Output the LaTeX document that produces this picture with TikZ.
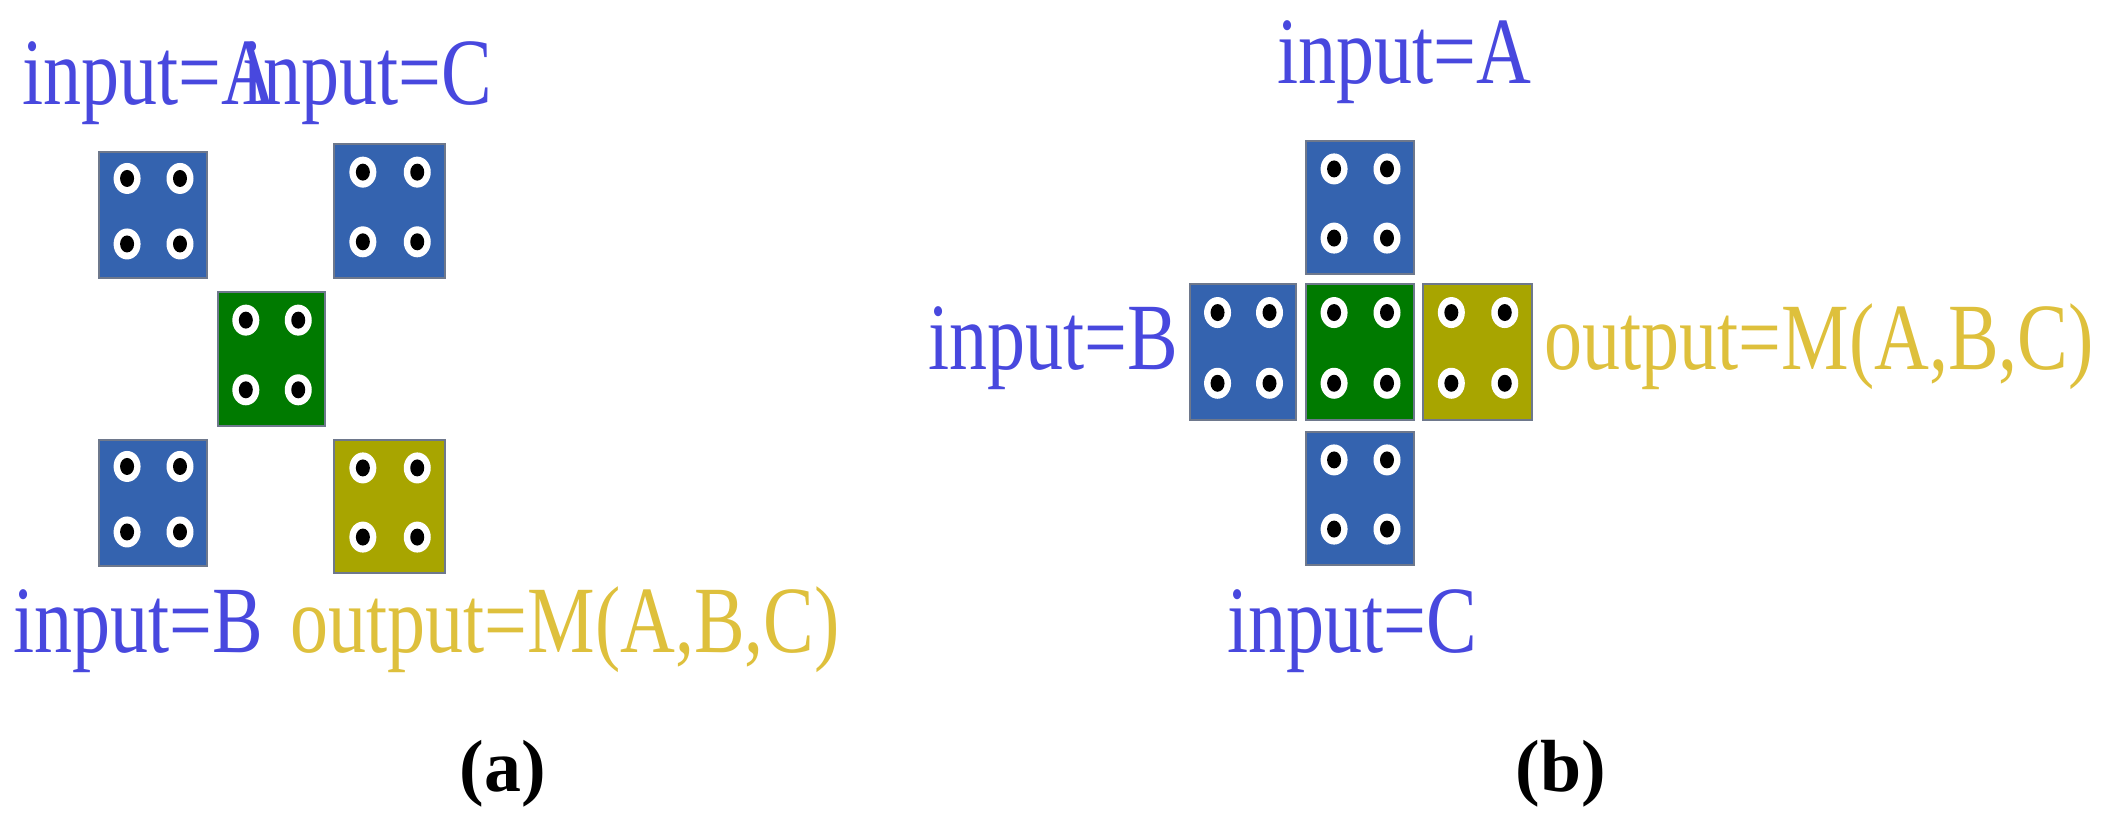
\documentclass[tikz,border=0pt]{standalone}
\usepackage{fontspec}
\setmainfont{Liberation Serif}
\definecolor{txtblue}{RGB}{72,72,222}
\definecolor{txtyel}{RGB}{222,192,60}
\definecolor{cblue}{RGB}{52,99,175}
\definecolor{cgreen}{RGB}{0,122,0}
\definecolor{colive}{RGB}{168,165,0}
\definecolor{cedge}{RGB}{110,120,140}
\tikzset{
  lbl/.style={inner sep=0pt, anchor=base west, xscale=0.8, font=\fontsize{27}{30}\selectfont},
  captxt/.style={inner sep=0pt, anchor=base, font=\fontsize{21}{24}\selectfont\bfseries},
}
\newcommand{\mycell}[6]{%
  \node[fill=#6, draw=cedge, line width=0.5pt, inner sep=0pt, minimum width={(#4-#2)*0.01cm}, minimum height={(#5-#3)*0.01cm}] (#1) at ({(#2+#4)/2},{(#3+#5)/2}) {};
  \foreach \fx in {0.26,0.75}{\foreach \fy in {0.21,0.73}{
    \fill[white] ({#2+\fx*(#4-#2)},{#3+\fy*(#5-#3)}) ellipse [x radius=13.5, y radius=15.5];
    \fill[black] ({#2+\fx*(#4-#2)},{#3+\fy*(#5-#3)}) ellipse [x radius=7, y radius=8.5];
  }}%
}
\begin{document}
\begin{tikzpicture}[x=0.01cm,y=-0.01cm]
\useasboundingbox (0,0) rectangle (2114,813);
% panel a
\node[lbl, text=txtblue] (ta) at (22,105) {input=A};
\node[lbl, text=txtblue] (tc) at (242,105) {input=C};
\mycell{aA}{99}{152}{207}{278}{cblue}
\mycell{aC}{334}{144}{445}{278}{cblue}
\mycell{aG}{218}{292}{325}{426}{cgreen}
\mycell{aB}{99}{440}{207}{566}{cblue}
\mycell{aY}{334}{440}{445}{573}{colive}
\node[lbl, text=txtblue] (tb) at (13,653) {input=B};
\node[lbl, text=txtyel] (to) at (290,653) {output=M(A,B,C)};
\node[captxt] (capa) at (503,792) {(a)};
% panel b
\node[lbl, text=txtblue] (tba) at (1277,84) {input=A};
\mycell{bA}{1306}{141}{1414}{274}{cblue}
\mycell{bB}{1190}{284}{1296}{420}{cblue}
\mycell{bG}{1306}{284}{1414}{420}{cgreen}
\mycell{bY}{1423}{284}{1532}{420}{colive}
\mycell{bC}{1306}{432}{1414}{565}{cblue}
\node[lbl, text=txtblue] (tbb) at (928,370) {input=B};
\node[lbl, text=txtyel] (tbo) at (1544,370) {output=M(A,B,C)};
\node[lbl, text=txtblue] (tbc) at (1227,653) {input=C};
\node[captxt] (capb) at (1561,792) {(b)};
\end{tikzpicture}
\end{document}
